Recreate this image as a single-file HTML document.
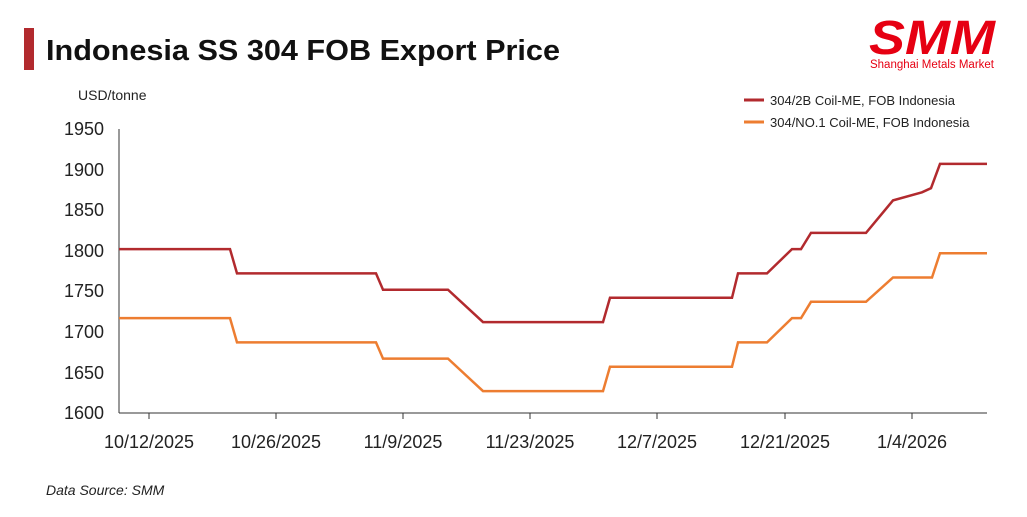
<!DOCTYPE html><html><head><style>body{margin:0;background:#fff}svg{display:block}</style></head><body>
<svg width="1027" height="517" xmlns="http://www.w3.org/2000/svg" font-family="Liberation Sans, sans-serif">
<rect x="24" y="28" width="10" height="42" fill="#b22a2e"/>
<text x="46" y="60" font-size="29" font-weight="bold" fill="#111" textLength="514" lengthAdjust="spacingAndGlyphs">Indonesia SS 304 FOB Export Price</text>
<text x="932" y="54" font-size="48" font-weight="bold" font-style="italic" fill="#e60012" text-anchor="middle" textLength="126" lengthAdjust="spacingAndGlyphs">SMM</text>
<text x="932" y="68" font-size="11.5" fill="#e60012" text-anchor="middle">Shanghai Metals Market</text>
<text x="78" y="100" font-size="14" fill="#222">USD/tonne</text>
<line x1="744" y1="100" x2="764" y2="100" stroke="#b22a2e" stroke-width="3"/>
<text x="770" y="105" font-size="13" fill="#222">304/2B Coil-ME, FOB Indonesia</text>
<line x1="744" y1="122" x2="764" y2="122" stroke="#ed7d31" stroke-width="3"/>
<text x="770" y="127" font-size="13" fill="#222">304/NO.1 Coil-ME, FOB Indonesia</text>
<g font-size="18" fill="#222" text-anchor="end">
<text x="104" y="135">1950</text><text x="104" y="176">1900</text><text x="104" y="216">1850</text><text x="104" y="257">1800</text><text x="104" y="297">1750</text><text x="104" y="338">1700</text><text x="104" y="379">1650</text><text x="104" y="419">1600</text></g>
<line x1="119" y1="129" x2="119" y2="413" stroke="#333"/>
<line x1="119" y1="413" x2="987" y2="413" stroke="#333"/>
<g stroke="#333"><line x1="149" y1="413" x2="149" y2="419"/><line x1="276" y1="413" x2="276" y2="419"/><line x1="403" y1="413" x2="403" y2="419"/><line x1="530" y1="413" x2="530" y2="419"/><line x1="657" y1="413" x2="657" y2="419"/><line x1="785" y1="413" x2="785" y2="419"/><line x1="912" y1="413" x2="912" y2="419"/></g>
<g font-size="18" fill="#222" text-anchor="middle">
<text x="149" y="448">10/12/2025</text><text x="276" y="448">10/26/2025</text><text x="403" y="448">11/9/2025</text><text x="530" y="448">11/23/2025</text><text x="657" y="448">12/7/2025</text><text x="785" y="448">12/21/2025</text><text x="912" y="448">1/4/2026</text></g>
<polyline fill="none" stroke="#b22a2e" stroke-width="2.5" points="119,249.1 230,249.1 237,273.4 376,273.4 383,289.7 448,289.7 483,322.1 603,322.1 610,297.8 732,297.8 738,273.4 767,273.4 792,249.1 801,249.1 811,232.9 866,232.9 893,200.4 922,192.3 931,188.2 940,163.9 987,163.9"/>
<polyline fill="none" stroke="#ed7d31" stroke-width="2.5" points="119,318.1 230,318.1 237,342.4 376,342.4 383,358.6 448,358.6 483,391.1 603,391.1 610,366.7 732,366.7 738,342.4 767,342.4 792,318.1 801,318.1 811,301.8 866,301.8 893,277.5 932,277.5 940,253.2 987,253.2"/>
<text x="46" y="495" font-size="14" font-style="italic" fill="#222">Data Source:  SMM</text>
</svg></body></html>
